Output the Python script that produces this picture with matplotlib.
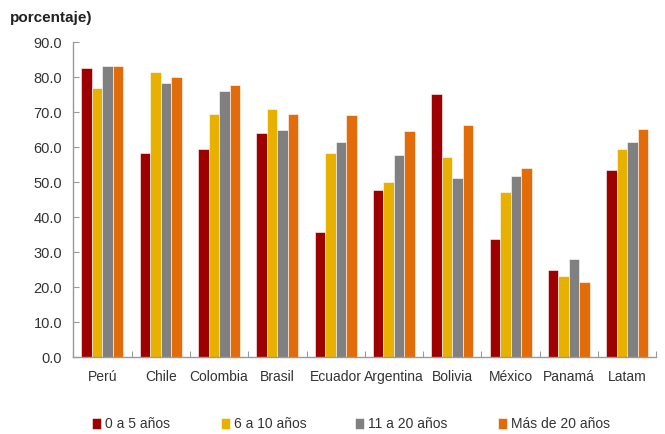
import matplotlib
matplotlib.use("Agg")
import matplotlib.pyplot as plt
import numpy as np
from matplotlib import font_manager

available = {f.name for f in font_manager.fontManager.ttflist}
family = "Liberation Sans Narrow" if "Liberation Sans Narrow" in available else "Liberation Sans"
plt.rcParams["font.family"] = [family, "DejaVu Sans"]

countries = ["Perú", "Chile", "Colombia", "Brasil", "Ecuador", "Argentina",
             "Bolivia", "México", "Panamá", "Latam"]
series_names = ["0 a 5 años", "6 a 10 años", "11 a 20 años", "Más de 20 años"]
v_0_5 = [82.6, 58.4, 59.6, 64.1, 35.7, 47.7, 75.1, 33.8, 24.9, 53.5]
v_6_10 = [76.9, 81.6, 69.6, 71.0, 58.4, 50.1, 57.2, 47.1, 23.3, 59.4]
v_11_20 = [83.1, 78.5, 76.2, 65.0, 61.4, 57.9, 51.2, 51.8, 28.1, 61.4]
v_20_plus = [83.3, 80.0, 77.7, 69.4, 69.2, 64.7, 66.3, 54.1, 21.4, 65.1]
yticks = [0, 10, 20, 30, 40, 50, 60, 70, 80, 90]

series = [v_0_5, v_6_10, v_11_20, v_20_plus]
colors = ["#9E0000", "#E8B000", "#808080", "#E36C0A"]
text_color = "#333333"
axis_color = "#9A9A9A"
fs = 10

fig = plt.figure(figsize=(6.65, 4.34), dpi=100)
ax = fig.add_axes([73.3 / 665, 1 - 357.3 / 434, 583 / 665, 315 / 434])

x = np.arange(len(countries))
width = 0.18
handles = []
for i, (vals, c) in enumerate(zip(series, colors)):
    b = ax.bar(x + (i - 1.5) * width, vals, width, color=c,
               edgecolor="white", linewidth=0.4, label=series_names[i])
    handles.append(b)

ax.set_xlim(-0.5, len(countries) - 0.5)
ax.set_ylim(0, 90)
ax.set_yticks(yticks)
ax.set_yticklabels([f"{t:.1f}" for t in yticks])
ax.set_xticks(np.arange(len(countries) + 1) - 0.5, minor=False)
ax.set_xticklabels([])
ax.set_xticks(x, minor=True)
ax.set_xticklabels(countries, minor=True)
ax.tick_params(axis="x", which="minor", length=0, pad=9, labelsize=fs, labelcolor=text_color)
ax.tick_params(axis="x", which="major", direction="in", length=4, color=axis_color)
ax.tick_params(axis="y", direction="in", length=4, color=axis_color, pad=8,
               labelsize=fs + 0.5, labelcolor=text_color)

for s in ["top", "right"]:
    ax.spines[s].set_visible(False)
for s in ["left", "bottom"]:
    ax.spines[s].set_color(axis_color)
    ax.spines[s].set_linewidth(1.0)

fig.text(10 / 665, 1 - 18 / 434, "porcentaje)", fontsize=11, fontweight="bold",
         color="#222222", va="center", ha="left")

# one legend entry per position along the bottom row
legend_x = [92, 221, 355, 498]
for h, name, lx in zip(handles, series_names, legend_x):
    fig.legend(handles=[h], labels=[name], loc="center left",
               bbox_to_anchor=(lx / 665, 1 - 424 / 434), frameon=False,
               fontsize=fs, handlelength=0.65, handleheight=0.85, handletextpad=0.3,
               labelcolor=text_color, borderaxespad=0, borderpad=0)

fig.savefig("out.png", dpi=100)
